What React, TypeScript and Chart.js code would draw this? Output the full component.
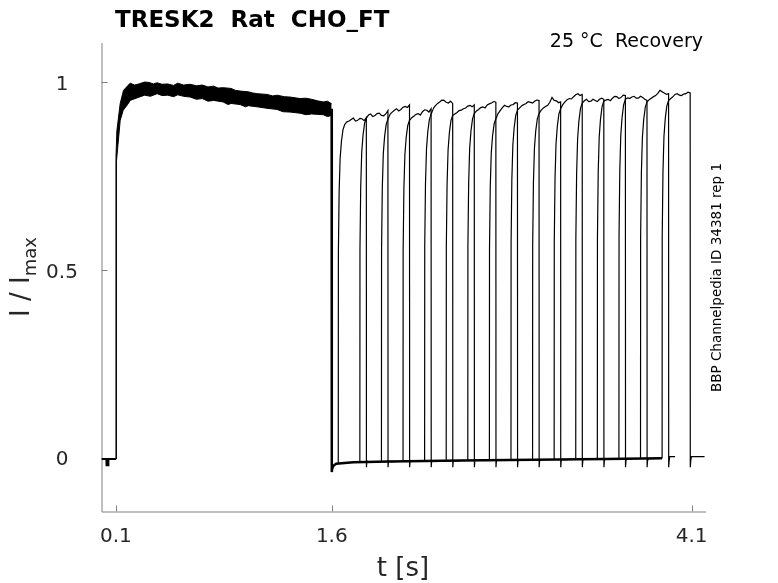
import React, { useEffect, useRef } from 'react';
import Chart from 'chart.js/auto';

const xTicks = [0.1, 1.6, 4.1];
const yTicks = [0, 0.5, 1];
const xTickLabels = ['0.1', '1.6', '4.1'];
const yTickLabels = ['0', '0.5', '1'];

// holding level before the first pulse (with the small artefact)
const preT = [0, 0.034, 0.035, 0.047, 0.048, 0.1];
const preV = [-0.003, -0.003, -0.02, -0.02, -0.003, -0.003];

// first pulse: upper and lower edge of the band of overlaid sweeps
const pulseUpperT = [0.1, 0.1005, 0.107, 0.13, 0.153, 0.199, 0.23, 0.26, 0.3, 0.33, 0.36, 0.387, 0.42, 0.46, 0.5, 0.53, 0.57, 0.616, 0.66, 0.7, 0.74, 0.78, 0.81, 0.845, 0.9, 0.93, 0.963, 1.02, 1.05, 1.081, 1.15, 1.19, 1.22, 1.27, 1.31, 1.38, 1.42, 1.46, 1.5, 1.54, 1.57, 1.599];
const pulseUpperV = [-0.003, 0.8, 0.872, 0.944, 0.979, 0.998, 0.993, 0.996, 1.001, 1.0, 0.996, 0.999, 0.995, 0.996, 0.992, 0.998, 0.993, 0.995, 0.991, 0.993, 0.988, 0.99, 0.985, 0.986, 0.984, 0.979, 0.977, 0.975, 0.972, 0.97, 0.968, 0.964, 0.966, 0.962, 0.961, 0.957, 0.958, 0.955, 0.951, 0.948, 0.95, 0.943];
const pulseLowerT = [0.101, 0.104, 0.13, 0.151, 0.187, 0.199, 0.255, 0.3, 0.34, 0.387, 0.42, 0.46, 0.5, 0.53, 0.57, 0.616, 0.66, 0.7, 0.74, 0.78, 0.845, 0.88, 0.9, 0.963, 1.0, 1.02, 1.081, 1.15, 1.22, 1.26, 1.31, 1.38, 1.42, 1.46, 1.54, 1.57, 1.599];
const pulseLowerV = [-0.003, 0.79, 0.899, 0.926, 0.944, 0.952, 0.96, 0.966, 0.963, 0.97, 0.965, 0.966, 0.962, 0.967, 0.963, 0.961, 0.955, 0.957, 0.95, 0.952, 0.948, 0.941, 0.944, 0.941, 0.935, 0.938, 0.935, 0.931, 0.928, 0.922, 0.921, 0.918, 0.914, 0.916, 0.914, 0.909, 0.912];

// step down at 1.6 s and the shared inter-pulse level
const holdT = [1.599, 1.6, 1.602, 1.61, 1.63, 1.75, 2.0, 2.5, 3.0, 3.5, 3.895];
const holdV = [0.93, -0.038, -0.03, -0.022, -0.016, -0.012, -0.01, -0.007, -0.005, -0.003, -0.001];

// recovery pulses, one per sweep
const recoveryOn = [1.645, 1.795, 1.945, 2.095, 2.245, 2.395, 2.545, 2.695, 2.845, 2.995, 3.145, 3.295, 3.445, 3.595, 3.745, 3.895];
const recoveryOff = [1.84, 1.99, 2.14, 2.29, 2.44, 2.59, 2.74, 2.89, 3.04, 3.19, 3.34, 3.49, 3.64, 3.79, 3.94, 4.09];
const sweepEnd = [1.89, 2.04, 2.19, 2.34, 2.49, 2.64, 2.79, 2.94, 3.09, 3.24, 3.39, 3.54, 3.69, 3.84, 3.985, 4.19];
const onLevel = [-0.014, -0.012, -0.011, -0.011, -0.01, -0.009, -0.008, -0.008, -0.007, -0.006, -0.005, -0.005, -0.004, -0.003, -0.002, -0.001];
const tailLevel = [-0.01, -0.01, -0.009, -0.008, -0.008, -0.007, -0.007, -0.006, -0.005, -0.005, -0.004, -0.004, -0.003, -0.002, 0.003, 0.003];
const riseDt = [0, 0.0008, 0.006, 0.013, 0.022, 0.033];
const riseFrac = [0, 0.62, 0.8, 0.9, 0.95, 0.985];
const plateauDt = [0.045, 0.06, 0.075, 0.09, 0.105, 0.12, 0.135, 0.15, 0.165, 0.18, 0.195];
const plateau = [
  [0.888, 0.895, 0.897, 0.901, 0.905, 0.897, 0.899, 0.904, 0.903, 0.898, 0.906],
  [0.905, 0.913, 0.916, 0.909, 0.912, 0.917, 0.918, 0.912, 0.911, 0.916, 0.925],
  [0.902, 0.915, 0.921, 0.926, 0.93, 0.924, 0.928, 0.934, 0.936, 0.933, 0.94],
  [0.899, 0.906, 0.91, 0.915, 0.917, 0.913, 0.922, 0.927, 0.926, 0.921, 0.93],
  [0.915, 0.93, 0.938, 0.944, 0.948, 0.953, 0.952, 0.947, 0.945, 0.95, 0.944],
  [0.912, 0.916, 0.92, 0.925, 0.926, 0.93, 0.932, 0.937, 0.939, 0.935, 0.94],
  [0.917, 0.924, 0.928, 0.933, 0.935, 0.932, 0.94, 0.943, 0.945, 0.949, 0.948],
  [0.903, 0.917, 0.925, 0.933, 0.939, 0.936, 0.935, 0.94, 0.941, 0.946, 0.945],
  [0.926, 0.932, 0.938, 0.941, 0.944, 0.949, 0.947, 0.945, 0.95, 0.953, 0.952],
  [0.917, 0.926, 0.932, 0.936, 0.939, 0.947, 0.96, 0.952, 0.951, 0.946, 0.948],
  [0.93, 0.941, 0.948, 0.954, 0.957, 0.956, 0.962, 0.967, 0.97, 0.965, 0.968],
  [0.945, 0.951, 0.955, 0.949, 0.95, 0.955, 0.952, 0.949, 0.955, 0.958, 0.955],
  [0.95, 0.953, 0.955, 0.951, 0.958, 0.963, 0.962, 0.957, 0.96, 0.966, 0.965],
  [0.955, 0.959, 0.957, 0.961, 0.963, 0.958, 0.958, 0.963, 0.96, 0.955, 0.952],
  [0.948, 0.954, 0.958, 0.962, 0.965, 0.971, 0.979, 0.975, 0.972, 0.968, 0.97],
  [0.952, 0.957, 0.962, 0.968, 0.97, 0.966, 0.965, 0.969, 0.97, 0.974, 0.972],
];
const offDt = [0.0008, 0.004];
const offV = [-0.025, -0.008];

const FONT = '"DejaVu Sans", sans-serif';
const AXIS_GREY = '#808080';
const TEXT = '#262626';

const toPoints = (t: number[], v: number[]) => t.map((x, i) => ({ x, y: v[i] }));

const sweepPoints = (i: number) => {
  const pts: { x: number; y: number }[] = [];
  const base = onLevel[i];
  const top = plateau[i][0];
  riseDt.forEach((dt, k) => {
    pts.push({ x: recoveryOn[i] + dt, y: base + riseFrac[k] * (top - base) });
  });
  plateauDt.forEach((dt, k) => {
    pts.push({ x: recoveryOn[i] + dt, y: plateau[i][k] });
  });
  offDt.forEach((dt, k) => {
    pts.push({ x: recoveryOff[i] + dt, y: offV[k] });
  });
  pts.push({ x: recoveryOff[i] + 0.008, y: tailLevel[i] });
  pts.push({ x: sweepEnd[i], y: tailLevel[i] });
  return pts;
};

const decorations = {
  id: 'decorations',
  beforeDatasetsDraw(chart: Chart) {
    const { ctx, chartArea: ca } = chart;
    const xs = chart.scales.x;
    const ys = chart.scales.y;
    ctx.save();
    ctx.strokeStyle = AXIS_GREY;
    ctx.lineWidth = 1;
    ctx.beginPath();
    ctx.moveTo(ca.left + 0.5, ca.top);
    ctx.lineTo(ca.left + 0.5, ca.bottom + 0.5);
    ctx.lineTo(ca.right, ca.bottom + 0.5);
    // inward tick marks
    xTicks.forEach((t) => {
      const px = Math.round(xs.getPixelForValue(t)) + 0.5;
      ctx.moveTo(px, ca.bottom);
      ctx.lineTo(px, ca.bottom - 6);
    });
    yTicks.forEach((v) => {
      const py = Math.round(ys.getPixelForValue(v)) + 0.5;
      ctx.moveTo(ca.left, py);
      ctx.lineTo(ca.left + 6, py);
    });
    ctx.stroke();
    ctx.restore();
  },
  afterDraw(chart: Chart) {
    const { ctx } = chart;
    const xs = chart.scales.x;
    const ys = chart.scales.y;
    ctx.save();
    ctx.fillStyle = TEXT;

    ctx.font = `20px ${FONT}`;
    ctx.textAlign = 'center';
    ctx.textBaseline = 'alphabetic';
    xTicks.forEach((t, i) => {
      ctx.fillText(xTickLabels[i], xs.getPixelForValue(t), 542);
    });
    yTicks.forEach((v, i) => {
      ctx.fillText(yTickLabels[i], 62, ys.getPixelForValue(v) + 7.5);
    });

    ctx.font = `26px ${FONT}`;
    ctx.fillText('t [s]', 403, 576);

    // y label with subscript
    ctx.save();
    ctx.translate(29, 277);
    ctx.rotate(-Math.PI / 2);
    ctx.font = `26px ${FONT}`;
    const mainW = ctx.measureText('I / I').width;
    ctx.font = `18px ${FONT}`;
    const subW = ctx.measureText('max').width;
    const start = -(mainW + subW) / 2;
    ctx.textAlign = 'left';
    ctx.font = `26px ${FONT}`;
    ctx.fillText('I / I', start, 0);
    ctx.font = `18px ${FONT}`;
    ctx.fillText('max', start + mainW, 7);
    ctx.restore();

    ctx.fillStyle = '#000';
    ctx.textAlign = 'left';
    ctx.font = `bold 23px ${FONT}`;
    ctx.fillText('TRESK2  Rat  CHO_FT', 115, 27);

    ctx.textAlign = 'right';
    ctx.font = `19px ${FONT}`;
    ctx.fillText('25 °C  Recovery', 703, 47);

    ctx.save();
    ctx.translate(721, 277.5);
    ctx.rotate(-Math.PI / 2);
    ctx.textAlign = 'center';
    ctx.font = `13.5px ${FONT}`;
    ctx.fillText('BBP Channelpedia ID 34381 rep 1', 0, 0);
    ctx.restore();

    ctx.restore();
  },
};

const RecoveryChart: React.FC = () => {
  const chartRef = useRef<HTMLCanvasElement>(null);
  const chartInstance = useRef<Chart | null>(null);

  useEffect(() => {
    if (!chartRef.current) return;
    const ctx = chartRef.current.getContext('2d');
    if (!ctx) return;

    if (chartInstance.current) {
      chartInstance.current.destroy();
    }

    const trace = {
      borderColor: '#000',
      pointRadius: 0,
      fill: false,
      tension: 0,
    };

    // tiny tension avoids the per-pixel fast path, which leaves stubs on the steep rises
    const sweeps = recoveryOn.map((_, i) => ({
      ...trace,
      data: sweepPoints(i),
      borderWidth: 1.2,
      tension: 0.000001,
    }));

    chartInstance.current = new Chart(ctx, {
      type: 'line',
      data: {
        datasets: [
          {
            ...trace,
            data: toPoints(pulseUpperT, pulseUpperV),
            borderWidth: 1,
            fill: '+1',
            backgroundColor: '#000',
          },
          {
            ...trace,
            data: toPoints(pulseLowerT, pulseLowerV),
            borderWidth: 1,
          },
          { ...trace, data: toPoints(preT, preV), borderWidth: 2 },
          { ...trace, data: toPoints(holdT, holdV), borderWidth: 2.5 },
          ...sweeps,
        ],
      },
      options: {
        animation: false,
        responsive: false,
        events: [],
        layout: { padding: { left: 0, right: 72, top: 43, bottom: 0 } },
        plugins: {
          legend: { display: false },
          tooltip: { enabled: false },
        },
        scales: {
          x: {
            type: 'linear',
            min: 0,
            max: 4.2,
            grid: { display: false },
            border: { display: false },
            ticks: { display: false },
            afterFit: (scale) => {
              scale.height = 71.5;
            },
          },
          y: {
            type: 'linear',
            min: -0.143,
            max: 1.105,
            grid: { display: false },
            border: { display: false },
            ticks: { display: false },
            afterFit: (scale) => {
              scale.width = 101.5;
            },
          },
        },
      },
      plugins: [decorations],
    });

    return () => {
      if (chartInstance.current) {
        chartInstance.current.destroy();
        chartInstance.current = null;
      }
    };
  }, []);

  return <canvas ref={chartRef} width={778} height={583} style={{ display: 'block' }} />;
};

export default function App() {
  return (
    <div style={{ position: 'absolute', left: 0, top: 0, width: 778, height: 583, background: '#fff' }}>
      <RecoveryChart />
    </div>
  );
}
